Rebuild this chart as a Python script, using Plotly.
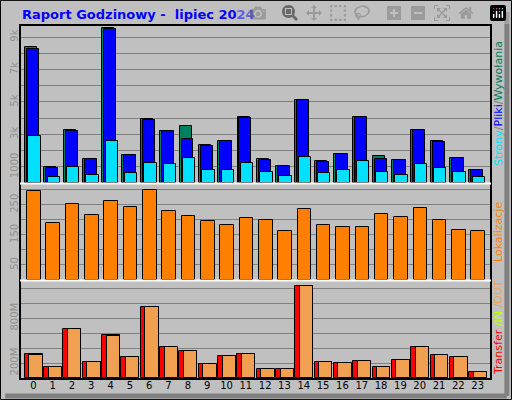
import plotly.graph_objects as go

hours = list(range(24))
hits = [8.4,1.0,3.25,1.5,9.55,1.75,3.95,3.2,3.5,2.35,2.6,4.05,1.5,1.05,5.1,1.35,1.8,4.1,1.65,1.4,3.3,2.6,1.55,0.8]
files = [8.3,0.95,3.2,1.5,9.5,1.7,3.9,3.2,2.7,2.3,2.6,4.0,1.45,1.05,5.1,1.3,1.8,4.05,1.5,1.4,3.25,2.55,1.55,0.8]
pages = [2.9,0.37,1.0,0.5,2.6,0.6,1.25,1.2,1.55,0.8,0.8,1.25,0.65,0.45,1.6,0.6,0.8,1.35,0.7,0.5,1.2,0.95,0.65,0.35]
sites = [297,189,253,216,263,243,300,229,212,195,182,206,199,162,236,182,175,175,219,209,240,199,165,162]
kin = [323,141,660,209,569,278,951,414,359,182,291,318,114,114,1233,209,196,223,141,237,414,305,278,86]
kout = [309,141,660,209,555,278,951,414,359,182,291,318,114,114,1233,209,196,223,141,237,414,305,278,86]

hits = [v*1000 for v in hits]; files = [v*1000 for v in files]; pages = [v*1000 for v in pages]

BG = "#c0c0c0"; GRID = "#808080"
ol = dict(line=dict(color="black", width=1))
fig = go.Figure()
def shift(d): return [h + d for h in hours]
fig.add_bar(x=shift(-0.12), y=hits, width=0.62, marker=dict(color="#008060", **ol), xaxis="x", yaxis="y")
fig.add_bar(x=shift(-0.02), y=files, width=0.62, marker=dict(color="#0000ff", **ol), xaxis="x", yaxis="y")
fig.add_bar(x=shift(0.06), y=pages, width=0.64, marker=dict(color="#00e0ff", **ol), xaxis="x", yaxis="y")
fig.add_bar(x=shift(0.03), y=sites, width=0.7, marker=dict(color="#ff8000", **ol), xaxis="x2", yaxis="y2")
fig.add_bar(x=shift(0.02), y=kin, width=0.92, marker=dict(color="#ff0000", **ol), xaxis="x3", yaxis="y3")
fig.add_bar(x=shift(0.14), y=kout, width=0.69, marker=dict(color="#f0a050", **ol), xaxis="x3", yaxis="y3")

xr = [-0.69, 23.69]
xd = [20/512, 491/512]
xcommon = dict(range=xr, domain=xd, showgrid=False, zeroline=False, fixedrange=True)
yc = dict(showgrid=True, gridcolor=GRID, gridwidth=1, zeroline=False, tickangle=-90,
          tickfont=dict(family="DejaVu Sans", size=10, color="#909090"), ticks="", anchor="free", position=xd[0])
fig.update_layout(
    width=512, height=400, margin=dict(l=0, r=0, t=0, b=0),
    paper_bgcolor=BG, plot_bgcolor=BG, showlegend=False, barmode="overlay", bargap=0,
    xaxis=dict(**xcommon, anchor="y", showticklabels=False),
    xaxis2=dict(**xcommon, anchor="y2", showticklabels=False),
    xaxis3=dict(**xcommon, anchor="y3", tickvals=hours, tickfont=dict(family="DejaVu Sans", size=10, color="black"), ticks=""),
    yaxis=dict(**yc, domain=[0.5425, 0.9375], range=[0, 9750], tickvals=[1000*i for i in range(1, 10)],
               ticktext=["1000", "", "3k", "", "5k", "", "7k", "", "9k"]),
    yaxis2=dict(**yc, domain=[0.30, 0.54], range=[0, 319], tickvals=[50, 100, 150, 200, 250, 300],
                ticktext=["50", "", "150", "", "250", ""]),
    yaxis3=dict(**yc, domain=[0.055, 0.2975], range=[0, 1297], tickvals=[200, 400, 600, 800, 1000, 1200],
                ticktext=["200M", "", "", "800M", "", ""]),
)
shapes = [
    dict(type="rect", xref="paper", yref="paper", x0=0.001, x1=0.999, y0=0.001, y1=0.999, line=dict(color="black", width=1)),
    dict(type="line", xref="paper", yref="paper", x0=0.99, x1=0.99, y0=0.01, y1=0.97, line=dict(color="#808080", width=5)),
    dict(type="line", xref="paper", yref="paper", x0=0.01, x1=0.99, y0=0.01, y1=0.01, line=dict(color="#808080", width=5)),
    dict(type="rect", xref="paper", yref="paper", x0=xd[0], x1=xd[1], y0=0.0525, y1=0.9375, line=dict(color="black", width=2)),
    dict(type="line", xref="paper", yref="paper", x0=xd[0], x1=xd[1], y0=0.541, y1=0.541, line=dict(color="white", width=2)),
    dict(type="line", xref="paper", yref="paper", x0=xd[0], x1=xd[1], y0=0.299, y1=0.299, line=dict(color="white", width=2)),
]
fig.update_layout(shapes=shapes)
ann = [
    dict(text="<b>Raport Godzinowy -  lipiec 2024</b>", x=20/512, y=1-15/400, xanchor="left", yanchor="middle",
         font=dict(family="DejaVu Sans", size=13, color="#0000ff")),
    dict(text="<span style='color:#00e0ff'>Strony</span><span style='color:#808080'>/</span><span style='color:#0000ff'>Pliki</span><span style='color:#808080'>/</span><span style='color:#008060'>Wywołania</span>",
         x=498/512, y=0.74, textangle=-90, xanchor="center", yanchor="middle", font=dict(family="DejaVu Sans", size=11)),
    dict(text="Lokalizacje", x=498/512, y=0.42, textangle=-90, xanchor="center", yanchor="middle",
         font=dict(family="DejaVu Sans", size=11, color="#ff8000")),
    dict(text="<span style='color:#ff0000'>Transfer</span><span style='color:#c0ff00'> /IN</span><span style='color:#f0a050'> /OUT</span>",
         x=498/512, y=0.18, textangle=-90, xanchor="center", yanchor="middle", font=dict(family="DejaVu Sans", size=11)),
]
fig.update_layout(annotations=[dict(a, xref="paper", yref="paper", showarrow=False) for a in ann])
fig.write_html("out.html", post_script="document.body.style.margin='0';document.body.style.overflow='hidden';")
